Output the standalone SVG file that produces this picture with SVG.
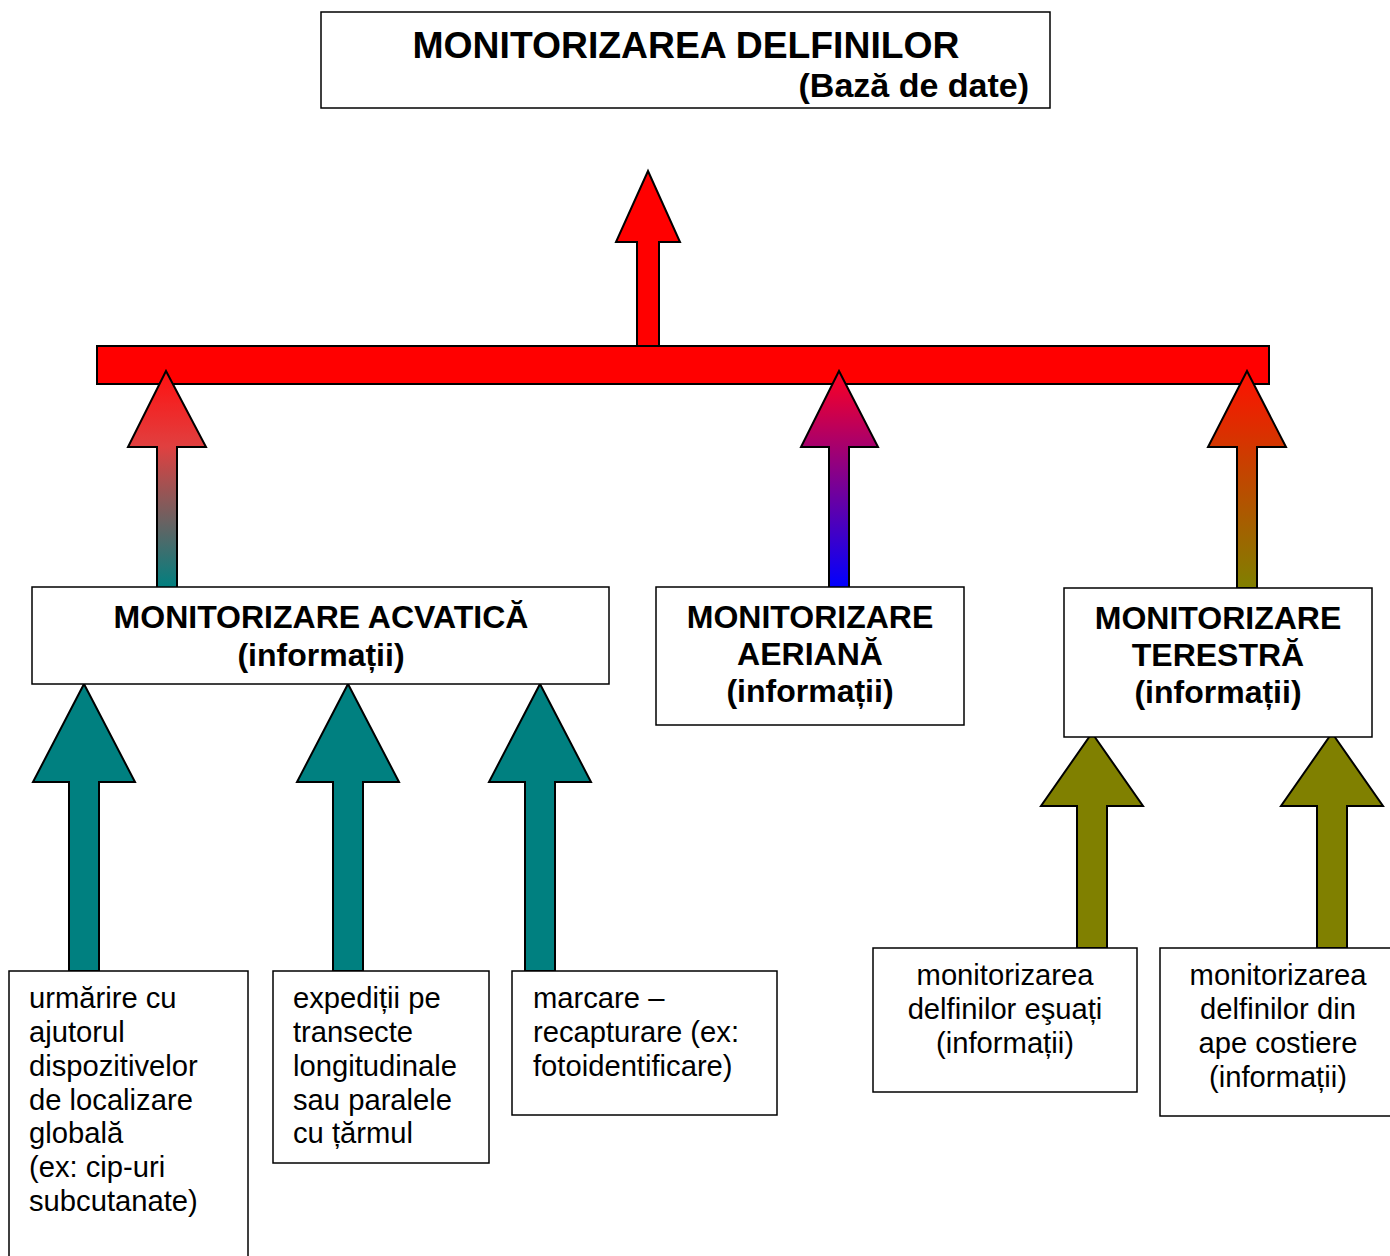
<svg xmlns="http://www.w3.org/2000/svg" width="1390" height="1256" viewBox="0 0 1390 1256">
<defs>
<style>
.box{fill:#fff;stroke:#000;stroke-width:1.5}
.arr{stroke:#000;stroke-width:2;stroke-linejoin:miter}
.hb{font-family:"Liberation Sans",Arial,sans-serif;font-weight:bold;fill:#000}
.tx{font-family:"Liberation Sans",Arial,sans-serif;font-size:29.2px;fill:#000}
</style>
<linearGradient id="gTeal" x1="0" y1="0" x2="0" y2="1"><stop offset="0" stop-color="#ff1010"/><stop offset="0.35" stop-color="#e04040"/><stop offset="1" stop-color="#008080"/></linearGradient>
<linearGradient id="gBlue" x1="0" y1="0" x2="0" y2="1"><stop offset="0" stop-color="#ff0020"/><stop offset="1" stop-color="#0000ff"/></linearGradient>
<linearGradient id="gOlive" x1="0" y1="0" x2="0" y2="1"><stop offset="0" stop-color="#ff1000"/><stop offset="1" stop-color="#808000"/></linearGradient>
</defs>

<g id="title">
<rect class="box" x="321" y="12" width="729" height="96"/>
<text class="hb" x="686" y="58" font-size="37.3" text-anchor="middle">MONITORIZAREA DELFINILOR</text>
<text class="hb" x="1029" y="97" font-size="34" text-anchor="end">(Bază de date)</text>
</g>

<g id="connectors">
<polygon class="arr" fill="#ff0000" points="648,171 680,242 659,242 659,346 637,346 637,242 616,242"/>
<rect id="bar" class="arr" fill="#ff0000" x="97" y="346" width="1172" height="38"/>
<polygon class="arr" fill="url(#gTeal)" points="166,371 206,447 177,447 177,588 157,588 157,447 128,447"/>
<polygon class="arr" fill="url(#gBlue)" points="839,371 878,447 849,447 849,588 829,588 829,447 801,447"/>
<polygon class="arr" fill="url(#gOlive)" points="1247,371 1286,447 1257,447 1257,588 1237,588 1237,447 1208,447"/>
<polygon class="arr" fill="#008080" points="84,684 135,782 99,782 99,971 69,971 69,782 33,782"/>
<polygon class="arr" fill="#008080" points="348,684 399,782 363,782 363,971 333,971 333,782 297,782"/>
<polygon class="arr" fill="#008080" points="540,684 591,782 555,782 555,971 525,971 525,782 489,782"/>
<polygon class="arr" fill="#808000" points="1092,733 1143,806 1107,806 1107,948 1077,948 1077,806 1041,806"/>
<polygon class="arr" fill="#808000" points="1332,733 1383,806 1347,806 1347,948 1317,948 1317,806 1281,806"/>
</g>

<g id="acvatica">
<rect class="box" x="32" y="587" width="577" height="97"/>
<text class="hb" x="321" y="628" font-size="32" text-anchor="middle">MONITORIZARE ACVATICĂ</text>
<text class="hb" x="321" y="666" font-size="32" text-anchor="middle">(informații)</text>
</g>

<g id="aeriana">
<rect class="box" x="656" y="587" width="308" height="138"/>
<text class="hb" font-size="32" text-anchor="middle"><tspan x="810" y="628">MONITORIZARE</tspan><tspan x="810" y="665">AERIANĂ</tspan><tspan x="810" y="702">(informații)</tspan></text>
</g>

<g id="terestra">
<rect class="box" x="1064" y="588" width="308" height="149"/>
<text class="hb" font-size="32" text-anchor="middle"><tspan x="1218" y="629">MONITORIZARE</tspan><tspan x="1218" y="666">TERESTRĂ</tspan><tspan x="1218" y="703">(informații)</tspan></text>
</g>

<g id="gps">
<rect class="box" x="9" y="971" width="239" height="300"/>
<text class="tx"><tspan x="29" y="1008">urmărire cu</tspan><tspan x="29" y="1042">ajutorul</tspan><tspan x="29" y="1076">dispozitivelor</tspan><tspan x="29" y="1110">de localizare</tspan><tspan x="29" y="1143">globală</tspan><tspan x="29" y="1177">(ex: cip-uri</tspan><tspan x="29" y="1211">subcutanate)</tspan></text>
</g>

<g id="expeditii">
<rect class="box" x="273" y="971" width="216" height="192"/>
<text class="tx"><tspan x="293" y="1008">expediții pe</tspan><tspan x="293" y="1042">transecte</tspan><tspan x="293" y="1076">longitudinale</tspan><tspan x="293" y="1110">sau paralele</tspan><tspan x="293" y="1143">cu țărmul</tspan></text>
</g>

<g id="marcare">
<rect class="box" x="512" y="971" width="265" height="144"/>
<text class="tx"><tspan x="533" y="1008">marcare –</tspan><tspan x="533" y="1042">recapturare (ex:</tspan><tspan x="533" y="1076">fotoidentificare)</tspan></text>
</g>

<g id="esuati">
<rect class="box" x="873" y="948" width="264" height="144"/>
<text class="tx" text-anchor="middle"><tspan x="1005" y="985">monitorizarea</tspan><tspan x="1005" y="1019">delfinilor eşuați</tspan><tspan x="1005" y="1053">(informații)</tspan></text>
</g>

<g id="costiere">
<rect class="box" x="1160" y="948" width="240" height="168"/>
<text class="tx" text-anchor="middle"><tspan x="1278" y="985">monitorizarea</tspan><tspan x="1278" y="1019">delfinilor din</tspan><tspan x="1278" y="1053">ape costiere</tspan><tspan x="1278" y="1087">(informații)</tspan></text>
</g>
</svg>
